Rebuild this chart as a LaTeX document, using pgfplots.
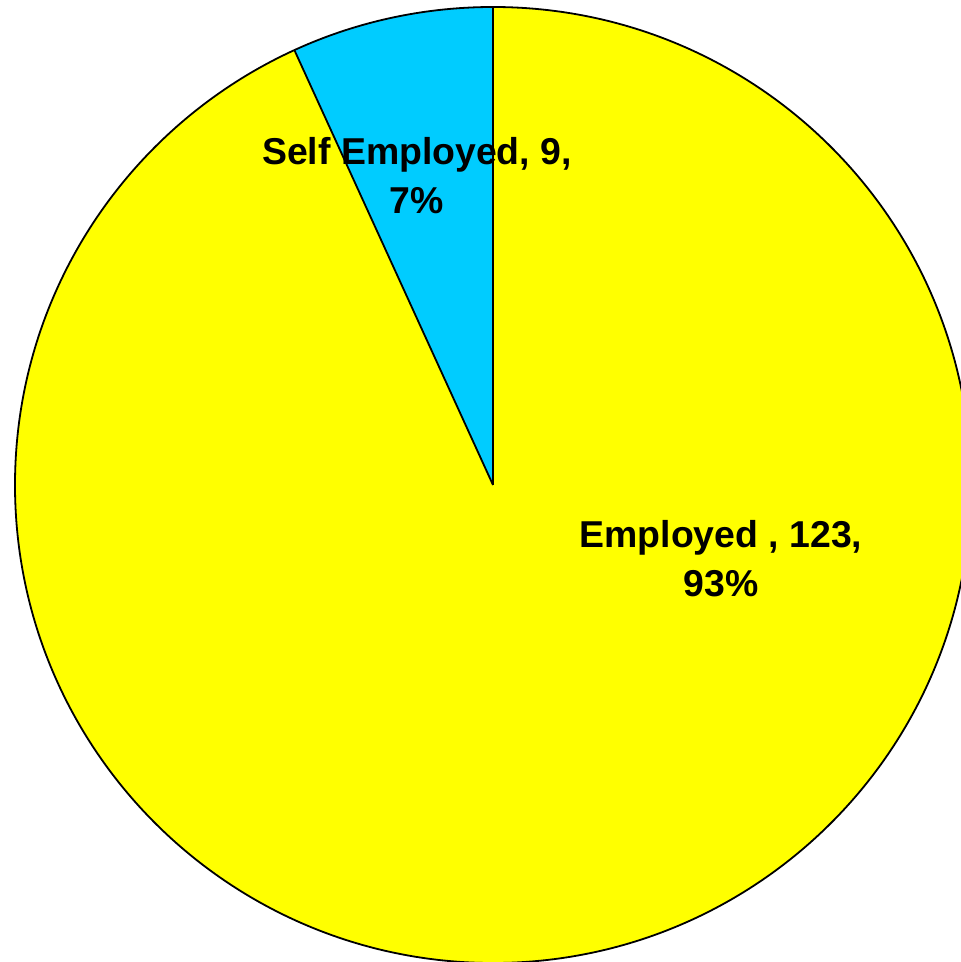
\documentclass[border=0pt]{standalone}
\usepackage{pgfplots}
\pgfplotsset{compat=1.18}
\usepackage{fontspec}
\setmainfont{Liberation Sans}
\definecolor{pieyellow}{HTML}{FFFF00}
\definecolor{piecyan}{HTML}{00CCFF}
\begin{document}
\begin{tikzpicture}
% one unit = one pixel of the reference (961 x 962), y pointing down
\useasboundingbox (0,0) rectangle (480.5pt,481pt);
\def\valEmp{123}
\def\valSelf{9}
\pgfmathsetmacro{\total}{\valEmp+\valSelf}
\pgfmathsetmacro{\aSelf}{90+360*\valSelf/\total}
\begin{axis}[
    at={(0,0)}, anchor=south west,
    width=480.5pt, height=481pt, scale only axis,
    xmin=0, xmax=961, ymin=0, ymax=962, y dir=reverse,
    hide axis, clip=true,
]
% slices: Self Employed starts at 12 o'clock and runs counter-clockwise
\fill[piecyan] (axis cs:493,485) -- ++(90:239pt) arc[start angle=90, end angle=\aSelf, radius=239pt] -- cycle;
\fill[pieyellow] (axis cs:493,485) -- ++(\aSelf:239pt) arc[start angle=\aSelf, end angle=450, radius=239pt] -- cycle;
\draw[line width=0.9pt] (axis cs:493,485) circle[radius=239pt];
\draw[line width=0.9pt] (axis cs:493,485) -- ++(90:239pt);
\draw[line width=0.9pt] (axis cs:493,485) -- ++(\aSelf:239pt);
\node[align=center, inner sep=0pt, font=\fontsize{18.7}{24.5}\selectfont\bfseries]
    at (axis cs:417,176) {Self Employed, 9,\\7\%};
\node[align=center, inner sep=0pt, font=\fontsize{18.7}{24.5}\selectfont\bfseries]
    at (axis cs:721,559) {Employed , 123,\\93\%};
\end{axis}
\end{tikzpicture}
\end{document}
